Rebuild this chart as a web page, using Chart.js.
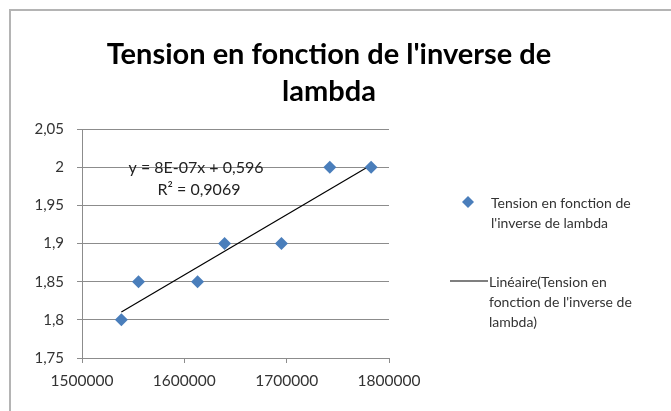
<!DOCTYPE html>
<html>
<head>
<meta charset="utf-8">
<script src="https://cdn.jsdelivr.net/npm/chart.js@4.4.0/dist/chart.umd.min.js"></script>
<style>
  html, body { margin: 0; padding: 0; background: #fff; }
  #wrap { width: 671px; height: 411px; position: relative; }
</style>
</head>
<body>
<div id="wrap"><canvas id="tensionChart"></canvas></div>
<script>
// donnees
const inverseLambda = [1538462, 1555210, 1612903, 1639344, 1694915, 1742160, 1782531];
const tension = [1.8, 1.85, 1.85, 1.9, 1.9, 2, 2];
const xTicks = [1500000, 1600000, 1700000, 1800000];
const yTicks = [1.75, 1.8, 1.85, 1.9, 1.95, 2, 2.05];

const titleLines = ["Tension en fonction de l'inverse de", 'lambda'];
const legendSerie = ['Tension en fonction de', "l'inverse de lambda"];
const legendTrend = ['Linéaire(Tension en', "fonction de l'inverse de", 'lambda)'];
const eqLines = ['y = 8E-07x + 0,596', 'R² = 0,9069'];

const FONT = 'Lato, "Open Sans", sans-serif';
const BLUE = '#4a7ebb';

// droite de regression (moindres carres)
function regression(xs, ys) {
    let mx = 0, my = 0;
    for (let i = 0; i < xs.length; i++) { mx += xs[i]; my += ys[i]; }
    mx /= xs.length; my /= ys.length;
    let sxy = 0, sxx = 0;
    for (let i = 0; i < xs.length; i++) {
        sxy += (xs[i] - mx) * (ys[i] - my);
        sxx += (xs[i] - mx) * (xs[i] - mx);
    }
    const a = sxy / sxx;
    return { a: a, b: my - a * mx };
}
const reg = regression(inverseLambda, tension);
const xMin = Math.min(...inverseLambda), xMax = Math.max(...inverseLambda);
const trendPoints = [
    { x: xMin, y: reg.a * xMin + reg.b },
    { x: xMax, y: reg.a * xMax + reg.b }
];

const points = inverseLambda.map((x, i) => ({ x: x, y: tension[i] }));

function virgule(v) {
    return parseFloat(v.toFixed(2)).toString().replace('.', ',');
}

// cadre, titre, equation et legende dessines a la main
const decor = {
    id: 'decor',
    beforeDraw(chart) {
        const c = chart.ctx;
        c.save();
        c.strokeStyle = '#b4b4b4';
        c.lineWidth = 2;
        c.beginPath();
        c.moveTo(10, 411);
        c.lineTo(10, 10);
        c.lineTo(671, 10);
        c.stroke();
        c.restore();
    },
    afterDraw(chart) {
        const c = chart.ctx;
        c.save();
        c.fillStyle = '#000';
        c.textAlign = 'center';
        c.textBaseline = 'middle';
        c.font = 'bold 29px ' + FONT;
        c.fillText(titleLines[0], 329, 55);
        c.fillText(titleLines[1], 329, 92);

        c.font = '16px ' + FONT;
        c.fillStyle = '#222';
        c.fillText(eqLines[0], 196, 168);
        c.fillText(eqLines[1], 199, 190);

        // legende
        c.textAlign = 'left';
        c.font = '14px ' + FONT;
        c.fillStyle = BLUE;
        c.beginPath();
        c.moveTo(468, 196);
        c.lineTo(474, 202);
        c.lineTo(468, 208);
        c.lineTo(462, 202);
        c.closePath();
        c.fill();
        c.fillStyle = '#333';
        legendSerie.forEach((t, i) => c.fillText(t, 491, 203 + i * 20));

        c.strokeStyle = '#000';
        c.lineWidth = 1.2;
        c.beginPath();
        c.moveTo(450, 281);
        c.lineTo(488, 281);
        c.stroke();
        legendTrend.forEach((t, i) => c.fillText(t, 489, 282 + i * 20));
        c.restore();
    }
};

const ctx = document.getElementById('tensionChart').getContext('2d');
new Chart(ctx, {
    data: {
        datasets: [
            {
                type: 'scatter',
                label: legendSerie.join(' '),
                data: points,
                pointStyle: 'rectRot',
                pointRadius: 6.5,
                backgroundColor: BLUE,
                borderColor: BLUE,
                borderWidth: 0
            },
            {
                type: 'line',
                label: legendTrend.join(' '),
                data: trendPoints,
                borderColor: '#000',
                borderWidth: 1.2,
                pointRadius: 0,
                fill: false
            }
        ]
    },
    options: {
        responsive: true,
        maintainAspectRatio: false,
        animation: false,
        layout: { padding: { left: 0, top: 129, right: 282, bottom: 0 } },
        scales: {
            x: {
                type: 'linear',
                min: xTicks[0],
                max: xTicks[xTicks.length - 1],
                afterBuildTicks: s => { s.ticks = xTicks.map(v => ({ value: v })); },
                afterFit: s => { s.height = 53; },
                grid: { drawOnChartArea: false, drawTicks: true, tickLength: 5, color: '#8c8c8c' },
                border: { color: '#8c8c8c' },
                ticks: {
                    color: '#333',
                    font: { family: FONT, size: 15.5 },
                    padding: 9,
                    maxRotation: 0,
                    callback: v => String(v)
                }
            },
            y: {
                min: yTicks[0],
                max: yTicks[yTicks.length - 1],
                afterBuildTicks: s => { s.ticks = yTicks.map(v => ({ value: v })); },
                afterFit: s => { s.width = 82; },
                grid: { color: '#8c8c8c', tickLength: 5 },
                border: { color: '#8c8c8c' },
                ticks: {
                    color: '#333',
                    font: { family: FONT, size: 15 },
                    padding: 13,
                    callback: v => virgule(v)
                }
            }
        },
        plugins: {
            legend: { display: false },
            title: { display: false },
            tooltip: { enabled: false }
        }
    },
    plugins: [decor]
});
</script>
</body>
</html>
